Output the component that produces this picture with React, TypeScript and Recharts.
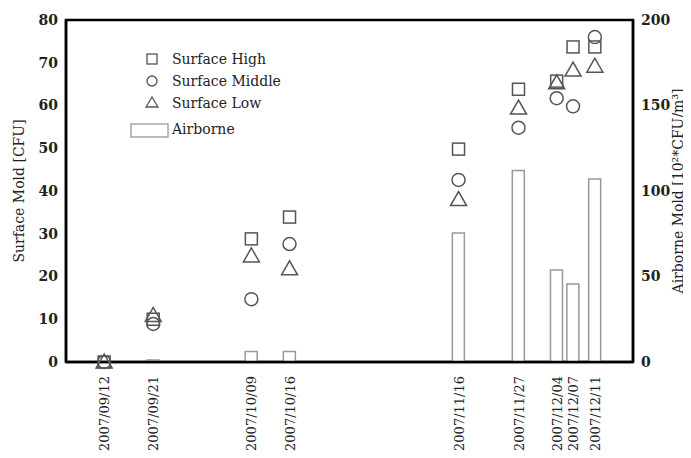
import React from "react";
import { ComposedChart, Bar, Scatter, XAxis, YAxis, ReferenceArea } from "recharts";

// days since 2007/09/12
const days = [0, 9, 27, 34, 65, 76, 83, 86, 90];
const dateLabels = [
    "2007/09/12", "2007/09/21", "2007/10/09", "2007/10/16", "2007/11/16",
    "2007/11/27", "2007/12/04", "2007/12/07", "2007/12/11",
];
const surfaceHigh = [0, 10, 28.8, 33.9, 49.8, 63.8, 65.7, 73.7, 73.7];
const surfaceMiddle = [0, 8.9, 14.7, 27.6, 42.6, 54.8, 61.7, 59.8, 76];
const surfaceLow = [0, 10.9, 24.8, 21.8, 38, 59.4, 65.3, 68.3, 69.2];
const airborne = [0, 1.2, 6.2, 6.2, 75.4, 112, 53.8, 45.6, 107];

const leftTicks = [0, 10, 20, 30, 40, 50, 60, 70, 80];
const rightTicks = [0, 50, 100, 150, 200];

const data = days.map((d, i) => ({
    day: d,
    high: surfaceHigh[i],
    middle: surfaceMiddle[i],
    low: surfaceLow[i],
    airborne: airborne[i],
}));

const FONT = "DejaVu Serif";
const MARK = "#555";

const SquareMark = (p: any) => (
    <rect x={p.cx - 6} y={p.cy - 6} width={12} height={12} fill="none" stroke={MARK} strokeWidth={1.5} />
);
const CircleMark = (p: any) => <circle cx={p.cx} cy={p.cy} r={6.5} fill="none" stroke={MARK} strokeWidth={1.5} />;
const TriangleMark = (p: any) => (
    <polygon
        points={`${p.cx},${p.cy - 8} ${p.cx - 8},${p.cy + 6} ${p.cx + 8},${p.cy + 6}`}
        fill="none"
        stroke={MARK}
        strokeWidth={1.5}
    />
);

const DateTick = (props: any) => {
    const { x, y, payload } = props;
    const i = days.indexOf(payload.value);
    return (
        <text
            transform={`translate(${x + 5},${y + 6}) rotate(-90)`}
            textAnchor="end"
            fontFamily={FONT}
            fontSize={13}
            fill="#222"
        >
            {dateLabels[i]}
        </text>
    );
};

const App: React.FC = () => {
    return (
        <div style={{ position: "relative", width: 683, height: 450 }}>
            <ComposedChart width={683} height={450} data={data} margin={{ top: 12, right: 0, bottom: 0, left: 0 }}>
                <XAxis
                    dataKey="day"
                    type="number"
                    domain={[-7, 97]}
                    ticks={days}
                    tick={<DateTick />}
                    tickLine={false}
                    interval={0}
                    height={96}
                    axisLine={{ stroke: "#000", strokeWidth: 2.5 }}
                />
                <YAxis
                    yAxisId="left"
                    domain={[0, 80]}
                    ticks={leftTicks}
                    width={58}
                    tickLine={false}
                    axisLine={{ stroke: "#000", strokeWidth: 2.5 }}
                    tick={{ fontFamily: FONT, fontSize: 14, fill: "#222", fontWeight: "bold" }}
                    label={{
                        value: "Surface Mold [CFU]",
                        angle: -90,
                        position: "insideLeft",
                        dx: 6,
                        style: { fontFamily: FONT, fontSize: 14, fill: "#222", textAnchor: "middle" },
                    }}
                />
                <YAxis
                    yAxisId="right"
                    orientation="right"
                    domain={[0, 200]}
                    ticks={rightTicks}
                    width={58}
                    tickLine={false}
                    axisLine={{ stroke: "#000", strokeWidth: 2.5 }}
                    tick={{ fontFamily: FONT, fontSize: 14, fill: "#222", fontWeight: "bold" }}
                    label={{
                        value: "Airborne Mold [10²*CFU/m³]",
                        angle: -90,
                        position: "insideRight",
                        dx: -8,
                        style: { fontFamily: FONT, fontSize: 14, fill: "#222", textAnchor: "middle" },
                    }}
                />
                <ReferenceArea
                    yAxisId="left"
                    x1={-7}
                    x2={97}
                    y1={0}
                    y2={80}
                    fill="none"
                    stroke="#000"
                    strokeWidth={2.5}
                    ifOverflow="visible"
                />
                <Bar yAxisId="right" dataKey="airborne" barSize={12} fill="#fff" stroke="#999" strokeWidth={1.5} isAnimationActive={false} />
                <Scatter yAxisId="left" dataKey="high" shape={SquareMark} isAnimationActive={false} />
                <Scatter yAxisId="left" dataKey="middle" shape={CircleMark} isAnimationActive={false} />
                <Scatter yAxisId="left" dataKey="low" shape={TriangleMark} isAnimationActive={false} />
            </ComposedChart>
            <svg style={{ position: "absolute", left: 110, top: 38 }} width={200} height={100}>
                <rect x={29} y={8} width={10} height={10} fill="none" stroke={MARK} strokeWidth={1.3} />
                <text x={54} y={18} fontFamily={FONT} fontSize={14} fill="#222">Surface High</text>
                <circle cx={34} cy={35} r={5} fill="none" stroke={MARK} strokeWidth={1.3} />
                <text x={54} y={40} fontFamily={FONT} fontSize={14} fill="#222">Surface Middle</text>
                <polygon points="34,51 28,61 40,61" fill="none" stroke={MARK} strokeWidth={1.3} />
                <text x={54} y={62} fontFamily={FONT} fontSize={14} fill="#222">Surface Low</text>
                <rect x={13} y={78} width={37} height={13} fill="none" stroke="#999" strokeWidth={1.3} />
                <text x={54} y={88} fontFamily={FONT} fontSize={14} fill="#222">Airborne</text>
            </svg>
        </div>
    );
};

export default App;
